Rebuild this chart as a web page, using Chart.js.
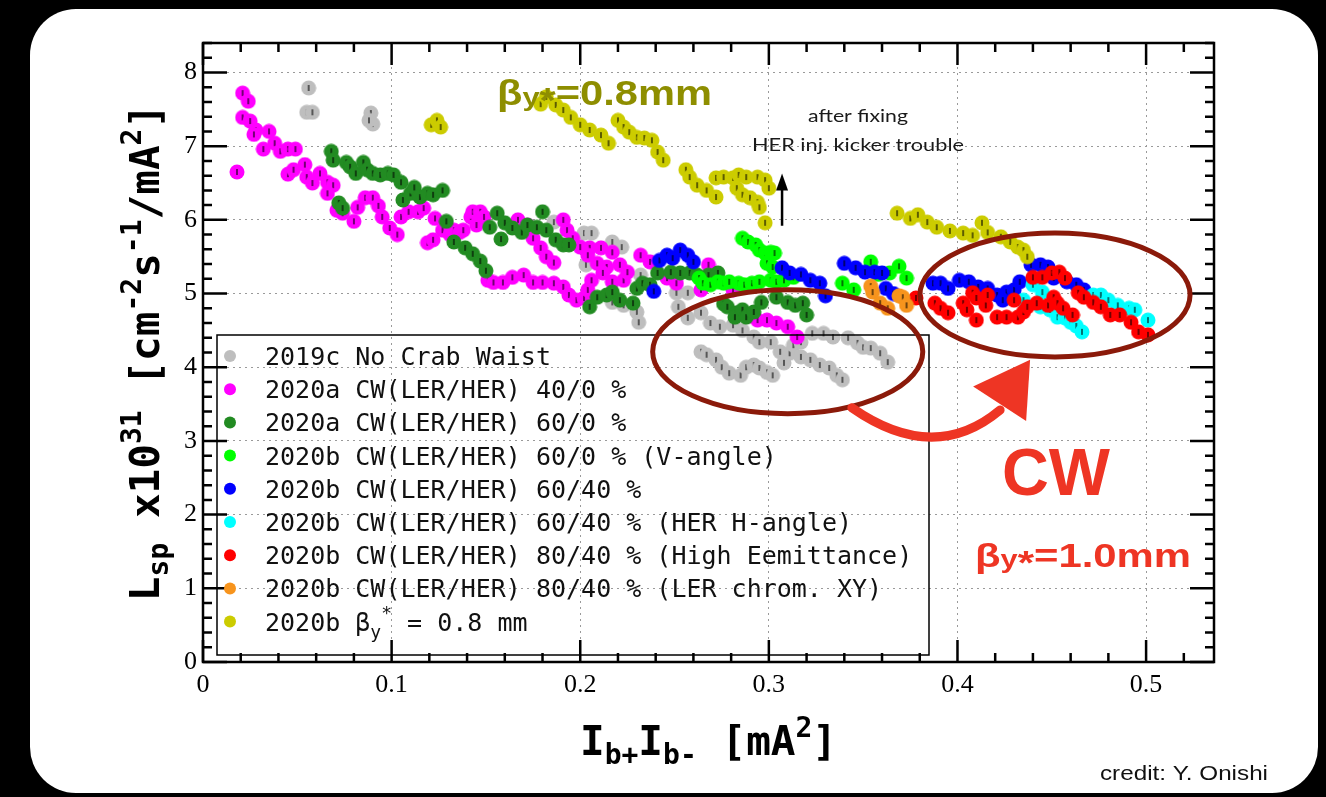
<!DOCTYPE html>
<html>
<head>
<meta charset="utf-8">
<script src="https://cdn.jsdelivr.net/npm/chart.js@4.4.1/dist/chart.umd.min.js"></script>
<style>
  html, body { margin: 0; padding: 0; background: #000; width: 1326px; height: 797px; overflow: hidden; }
  #panel { position: absolute; left: 30px; top: 9px; width: 1288px; height: 784px; background: #fff; border-radius: 46px; }
  #c { position: absolute; left: 0; top: 0; }
</style>
</head>
<body>
<div id="panel"></div>
<canvas id="c" width="1326" height="797"></canvas>
<script>
// Specific luminosity vs. bunch current product, per run period.
// Each point: [Ib+ * Ib- (mA^2), Lsp (x1e31 cm^-2 s^-1 / mA^2)]

const run2019c = [
  [0.056,7.79],[0.055,7.46],[0.058,7.46],[0.089,7.45],[0.090,7.30],[0.088,7.35],
  [0.186,5.97],[0.202,5.82],[0.206,5.82],[0.203,5.39],[0.217,5.70],[0.222,5.63],[0.232,5.25],
  [0.217,4.88],[0.223,4.84],[0.230,4.75],[0.231,4.61],
  [0.251,5.01],[0.257,5.01],[0.252,4.82],[0.257,4.67],
  [0.264,4.74],[0.269,4.60],[0.274,4.55],[0.281,4.57],[0.286,4.50],[0.292,4.41],[0.295,4.34],
  [0.301,4.34],[0.306,4.21],[0.311,4.19],[0.313,4.30],[0.317,4.34],
  [0.308,4.06],[0.317,4.14],[0.322,4.10],[0.327,4.03],[0.332,3.99],[0.336,3.89],[0.339,3.83],
  [0.323,4.46],[0.329,4.46],[0.334,4.41],[0.342,4.40],[0.347,4.33],[0.350,4.27],[0.354,4.26],
  [0.359,4.19],[0.363,4.07],
  [0.264,4.21],[0.267,4.17],[0.272,4.10],[0.275,4.00],[0.279,3.92],[0.285,3.89],[0.288,4.00],
  [0.292,4.03],[0.295,3.99],[0.299,3.93],[0.302,3.89]
];

const run2020a40 = [
  [0.018,6.65],[0.021,7.72],[0.024,7.61],[0.021,7.39],[0.025,7.34],[0.028,7.22],[0.027,7.16],
  [0.035,7.20],[0.032,6.96],[0.038,7.04],[0.041,6.93],[0.045,6.96],[0.049,6.96],
  [0.045,6.62],[0.048,6.68],[0.054,6.75],[0.055,6.58],[0.058,6.50],[0.062,6.63],[0.066,6.51],
  [0.069,6.47],[0.066,6.36],
  [0.071,6.13],[0.074,6.09],[0.080,5.98],[0.082,6.17],[0.086,6.30],[0.090,6.30],[0.093,6.19],
  [0.095,6.04],[0.099,5.89],[0.103,5.80],
  [0.105,6.04],[0.109,6.11],[0.114,6.11],[0.117,6.16],[0.119,5.69],[0.122,5.73],[0.123,6.02],
  [0.127,5.86],[0.131,5.80],[0.133,5.86],[0.136,5.83],[0.138,5.86],[0.142,6.04],[0.143,6.11],
  [0.145,5.93],[0.147,6.11],[0.149,6.04],
  [0.151,5.18],[0.154,5.15],[0.159,5.15],[0.164,5.22],[0.170,5.25],[0.175,5.15],[0.180,5.15],
  [0.186,5.14],[0.191,5.09],[0.194,4.98],[0.198,4.91],[0.202,4.94],[0.204,5.05],[0.206,5.18],
  [0.167,6.00],[0.172,5.93],[0.175,5.75],[0.179,5.62],[0.182,5.50],[0.186,5.42],[0.191,6.00],
  [0.193,5.86],[0.196,5.75],[0.200,5.63],[0.205,5.62],[0.211,5.62],[0.204,5.52],[0.209,5.41],
  [0.214,5.36],[0.217,5.56],[0.221,5.39],[0.212,5.28],[0.217,5.16],[0.223,5.18],[0.225,5.29],
  [0.232,5.52],[0.237,5.43],[0.246,5.21],[0.251,5.14],
  [0.268,5.39],[0.264,5.05],[0.281,5.05],[0.290,4.70],[0.294,4.64],[0.299,4.64],[0.304,4.60],
  [0.310,4.55],[0.315,4.41]
];

const run2020a60 = [
  [0.068,6.93],[0.069,6.81],[0.076,6.78],[0.078,6.72],[0.081,6.63],[0.085,6.78],[0.087,6.68],
  [0.090,6.63],[0.094,6.61],[0.098,6.63],[0.101,6.61],[0.105,6.51],[0.106,6.27],[0.110,6.36],
  [0.112,6.44],[0.115,6.31],[0.119,6.36],[0.122,6.34],[0.127,6.40],[0.072,6.23],[0.074,6.16],
  [0.129,5.98],[0.133,5.70],[0.139,5.62],[0.143,5.54],[0.147,5.44],[0.150,5.31],
  [0.156,6.09],[0.152,5.90],[0.158,5.74],[0.160,5.96],[0.164,5.89],[0.169,5.83],[0.172,5.93],
  [0.177,5.90],[0.180,6.11],[0.182,5.86],[0.187,5.73],[0.191,5.66],[0.194,5.66],
  [0.205,4.82],[0.209,4.95],[0.214,4.98],[0.217,5.02],[0.221,4.91],[0.228,4.87],[0.230,5.07],
  [0.233,5.14],[0.237,5.12],[0.241,5.28],[0.248,5.29],[0.253,5.28],[0.258,5.28],[0.262,5.25],
  [0.268,5.25],[0.273,5.28],
  [0.276,4.86],[0.278,4.82],[0.283,4.74],[0.282,4.68],[0.286,4.78],[0.288,4.68],[0.292,4.75],
  [0.296,4.88],[0.304,4.95],[0.310,4.88],[0.314,4.84],[0.318,4.87],[0.320,4.71]
];

const run2020bVangle = [
  [0.286,5.75],[0.289,5.70],[0.293,5.66],[0.295,5.59],[0.298,5.55],[0.301,5.56],[0.303,5.55],
  [0.299,5.41],[0.302,5.36],
  [0.263,5.21],[0.265,5.14],[0.269,5.12],[0.273,5.16],[0.276,5.14],[0.279,5.16],[0.284,5.14],
  [0.287,5.12],[0.291,5.14],[0.295,5.16],[0.301,5.18],[0.304,5.16],[0.308,5.18],[0.313,5.22],
  [0.339,5.14],[0.345,5.05],[0.354,5.43],[0.358,5.26],[0.364,5.28],[0.369,5.37],[0.373,5.21]
];

const run2020b6040 = [
  [0.239,5.03],[0.242,5.45],[0.246,5.52],[0.249,5.48],[0.253,5.59],[0.257,5.52],[0.260,5.43],
  [0.307,5.35],[0.311,5.28],[0.317,5.26],[0.322,5.18],[0.327,5.14],[0.330,4.97],
  [0.340,5.41],[0.346,5.35],[0.351,5.29],[0.356,5.29],[0.360,5.28],[0.362,5.07],[0.366,5.00],
  [0.387,5.14],[0.391,5.14],[0.395,5.07],[0.401,5.18],[0.406,5.16],[0.411,5.09],[0.416,5.07],
  [0.421,4.98],[0.426,5.02],[0.430,5.05],[0.433,5.16],[0.424,4.91],
  [0.439,5.39],[0.444,5.39],[0.448,5.36],[0.451,5.21],[0.458,5.16],[0.463,5.12],[0.467,5.05]
];

const run2020bHangle = [
  [0.435,4.91],[0.440,5.12],[0.445,5.02],[0.444,4.82],[0.449,4.78],[0.453,4.68],[0.457,4.67],
  [0.460,4.61],[0.463,4.56],[0.466,4.48],[0.472,4.98],[0.476,4.98],[0.480,4.91],[0.485,4.84],
  [0.491,4.80],[0.494,4.78],[0.501,4.64]
];

const run2020bHighEmit = [
  [0.378,4.94],[0.388,4.87],[0.391,4.80],[0.395,4.74],[0.403,4.87],[0.405,4.78],[0.408,5.01],
  [0.410,4.94],[0.410,4.64],[0.415,4.84],[0.416,4.98],[0.421,4.68],[0.426,4.68],[0.432,4.68],
  [0.430,4.91],[0.435,4.75],[0.437,4.82],
  [0.440,5.22],[0.445,5.22],[0.450,5.28],[0.454,5.29],[0.457,5.21],[0.442,4.87],[0.448,4.84],
  [0.451,4.95],[0.453,4.87],[0.456,4.80],[0.461,4.71],
  [0.464,5.01],[0.467,4.95],[0.472,4.88],[0.476,4.82],[0.481,4.71],[0.486,4.71],[0.492,4.61],
  [0.496,4.48],[0.501,4.44]
];

const run2020bChromXY = [
  [0.354,5.10],[0.355,5.02],[0.359,4.87],[0.363,4.80],[0.369,4.97],[0.371,4.95],[0.373,4.84]
];

const run2020bBeta08 = [
  [0.121,7.29],[0.124,7.35],[0.126,7.26],
  [0.179,7.57],[0.182,7.67],[0.187,7.56],[0.191,7.49],[0.195,7.39],[0.200,7.29],[0.205,7.22],
  [0.211,7.15],[0.215,7.04],[0.220,7.35],[0.223,7.26],[0.226,7.19],[0.230,7.12],[0.234,7.11],
  [0.238,7.08],[0.241,6.92],[0.244,6.81],
  [0.256,6.68],[0.258,6.58],[0.262,6.47],[0.267,6.40],[0.272,6.31],[0.272,6.57],[0.276,6.58],
  [0.281,6.57],[0.284,6.61],[0.288,6.58],[0.294,6.58],[0.298,6.54],[0.300,6.43],[0.283,6.43],
  [0.286,6.34],[0.290,6.30],[0.294,6.24],[0.295,6.17],[0.298,5.96],
  [0.368,6.09],[0.375,6.02],[0.379,6.07],[0.384,5.97],[0.389,5.90],[0.396,5.85],[0.403,5.82],
  [0.408,5.79],[0.413,5.96],[0.416,5.83],[0.423,5.77],[0.428,5.70],[0.432,5.63],[0.435,5.59],
  [0.437,5.50]
];

const seriesLabels = [
  '2019c No Crab Waist',
  '2020a CW(LER/HER) 40/0 %',
  '2020a CW(LER/HER) 60/0 %',
  '2020b CW(LER/HER) 60/0 % (V-angle)',
  '2020b CW(LER/HER) 60/40 %',
  '2020b CW(LER/HER) 60/40 % (HER H-angle)',
  '2020b CW(LER/HER) 80/40 % (High Eemittance)',
  '2020b CW(LER/HER) 80/40 % (LER chrom. XY)',
  '2020b β_{y}^{*} = 0.8 mm'
];

const seriesData = [run2019c, run2020a40, run2020a60, run2020bVangle, run2020b6040,
                    run2020bHangle, run2020bHighEmit, run2020bChromXY, run2020bBeta08];

const xTickLabels = ['0', '0.1', '0.2', '0.3', '0.4', '0.5'];
const yTickLabels = ['0', '1', '2', '3', '4', '5', '6', '7', '8'];

// styling
const seriesColors = ['#BEBEBE', '#FF00FF', '#228B22', '#00FF00', '#0000FF',
                      '#00FFFF', '#FF0000', '#F7941D', '#CCCC00'];
const MONO = '"DejaVu Sans Mono", monospace';
const SANS = '"Liberation Sans", Arial, sans-serif';

// filled marker with a small black error tick through the centre
function dotImage(color) {
  const c = document.createElement('canvas');
  c.width = 16; c.height = 16;
  const g = c.getContext('2d');
  g.fillStyle = color;
  g.beginPath(); g.arc(8, 8, 7.5, 0, Math.PI * 2); g.fill();
  g.strokeStyle = '#000'; g.lineWidth = 1.1;
  g.beginPath(); g.moveTo(8, 5); g.lineTo(8, 11); g.stroke();
  return c;
}

// split "a_{b}^{c}" markup into normal / sub / sup runs
function parseRich(str) {
  const out = [];
  const re = /([_^])\{([^}]*)\}/g;
  let last = 0, m;
  while ((m = re.exec(str)) !== null) {
    if (m.index > last) out.push({ t: str.slice(last, m.index), k: 'n' });
    out.push({ t: m[2], k: m[1] === '_' ? 'sub' : 'sup' });
    last = re.lastIndex;
  }
  if (last < str.length) out.push({ t: str.slice(last), k: 'n' });
  return out;
}

// draw runs of [text, size, dy] left to right; returns total advance
function runWidth(ctx, parts, weight, family) {
  let w = 0;
  for (const [t, s] of parts) { ctx.font = `${weight} ${s}px ${family}`; w += ctx.measureText(t).width; }
  return w;
}
function drawRuns(ctx, parts, x, y, weight, family) {
  let cx = x;
  for (const [t, s, dy] of parts) {
    ctx.font = `${weight} ${s}px ${family}`;
    ctx.fillText(t, cx, y + dy);
    cx += ctx.measureText(t).width;
  }
  return cx - x;
}
// same, horizontally scaled so the run spans a given width
function drawRunsFitted(ctx, parts, x, y, weight, family, width, color) {
  ctx.save();
  ctx.fillStyle = color;
  ctx.textBaseline = 'alphabetic';
  ctx.textAlign = 'left';
  const w = runWidth(ctx, parts, weight, family);
  ctx.translate(x, y);
  ctx.scale(width / w, 1);
  drawRuns(ctx, parts, 0, 0, weight, family);
  ctx.restore();
}

const frameAndLegend = {
  id: 'frameAndLegend',
  afterDatasetsDraw(chart) {
    const { ctx, chartArea: ca } = chart;
    const xs = chart.scales.x, ys = chart.scales.y;
    ctx.save();
    ctx.strokeStyle = '#000';
    ctx.lineWidth = 2.5;
    ctx.lineCap = 'butt';
    // inward ticks on all four sides: major every 0.1 / 1, minor every 0.02 / 0.2
    for (let k = 0; ; k++) {
      const v = k * 0.02;
      if (v > xs.max + 1e-9) break;
      const px = xs.getPixelForValue(v);
      const len = (k % 5 === 0) ? 22 : 9;
      ctx.beginPath();
      ctx.moveTo(px, ca.bottom); ctx.lineTo(px, ca.bottom - len);
      ctx.moveTo(px, ca.top); ctx.lineTo(px, ca.top + len);
      ctx.stroke();
    }
    for (let k = 0; ; k++) {
      const v = k * 0.2;
      if (v > ys.max + 1e-9) break;
      const py = ys.getPixelForValue(v);
      const len = (k % 5 === 0) ? 24 : 9;
      ctx.beginPath();
      ctx.moveTo(ca.left, py); ctx.lineTo(ca.left + len, py);
      ctx.moveTo(ca.right, py); ctx.lineTo(ca.right - len, py);
      ctx.stroke();
    }
    ctx.strokeRect(ca.left, ca.top, ca.right - ca.left, ca.bottom - ca.top);

    // legend box, lower left inside the frame
    const bx = ca.left + 14, bw = 712, bh = 320, by = ca.bottom - 7 - bh;
    ctx.lineWidth = 1.5;
    ctx.strokeRect(bx, by, bw, bh);
    const rowH = 33.2;
    ctx.textBaseline = 'alphabetic';
    ctx.textAlign = 'left';
    seriesLabels.forEach((lab, i) => {
      const cy = by + 21 + i * rowH;
      ctx.fillStyle = seriesColors[i];
      ctx.beginPath(); ctx.arc(bx + 13, cy, 6, 0, Math.PI * 2); ctx.fill();
      ctx.fillStyle = '#111';
      const runs = parseRich(lab).map(r =>
        r.k === 'n' ? [r.t, 25, 0] : r.k === 'sub' ? [r.t, 18, 7] : [r.t, 18, -12]);
      drawRuns(ctx, runs, bx + 48, cy + 9, 'normal', MONO);
    });
    ctx.restore();
  }
};

const overlays = {
  id: 'overlays',
  afterDraw(chart) {
    const { ctx, chartArea: ca } = chart;
    const xs = chart.scales.x, ys = chart.scales.y;
    const X = v => xs.getPixelForValue(v), Y = v => ys.getPixelForValue(v);
    ctx.save();

    // axis titles
    ctx.fillStyle = '#000';
    ctx.textBaseline = 'alphabetic';
    const yTitle = [['L', 41, 0], ['sp', 28, 9], [' x10', 41, 0], ['31', 28, -18], [' [cm', 41, 0],
                    ['-2', 28, -18], ['s', 41, 0], ['-1', 28, -18], ['/mA', 41, 0], ['2', 28, -18], [']', 41, 0]];
    const yw = runWidth(ctx, yTitle, 'bold', MONO);
    ctx.save();
    ctx.translate(159, (ca.top + ca.bottom) / 2);
    ctx.rotate(-Math.PI / 2);
    drawRuns(ctx, yTitle, -yw / 2, 0, 'bold', MONO);
    ctx.restore();

    const xTitle = [['I', 41, 0], ['b+', 28, 9], ['I', 41, 0], ['b-', 28, 9], [' [mA', 41, 0], ['2', 28, -18], [']', 41, 0]];
    const xw = runWidth(ctx, xTitle, 'bold', MONO);
    drawRuns(ctx, xTitle, (ca.left + ca.right) / 2 - xw / 2, 755, 'bold', MONO);

    // highlighted regions
    ctx.strokeStyle = '#8B1A0A';
    ctx.lineWidth = 5;
    const ellipse = (cx, cy, rx, ry) => {
      const px = X(cx), py = Y(cy);
      ctx.beginPath();
      ctx.ellipse(px, py, X(cx + rx) - px, py - Y(cy + ry), 0, 0, Math.PI * 2);
      ctx.stroke();
    };
    ellipse(0.310, 4.21, 0.0716, 0.84);
    ellipse(0.4517, 4.98, 0.0716, 0.84);

    // curved red arrow from the no-crab-waist group to the crab-waist group
    ctx.strokeStyle = '#EE3524';
    ctx.fillStyle = '#EE3524';
    ctx.lineWidth = 9;
    ctx.lineCap = 'round';
    ctx.beginPath();
    ctx.moveTo(X(0.344), Y(3.45));
    ctx.quadraticCurveTo(X(0.3876), Y(2.67), X(0.4226), Y(3.42));
    ctx.stroke();
    ctx.beginPath();
    ctx.moveTo(X(0.4385), Y(4.10));
    ctx.lineTo(X(0.4083), Y(3.74));
    ctx.lineTo(X(0.4364), Y(3.27));
    ctx.closePath();
    ctx.fill();

    // small black arrow
    ctx.strokeStyle = '#000';
    ctx.fillStyle = '#000';
    ctx.lineWidth = 2.5;
    ctx.lineCap = 'butt';
    ctx.beginPath();
    ctx.moveTo(X(0.307), Y(5.92)); ctx.lineTo(X(0.307), Y(6.45));
    ctx.stroke();
    ctx.beginPath();
    ctx.moveTo(X(0.307), Y(6.63));
    ctx.lineTo(X(0.307) - 6, Y(6.40));
    ctx.lineTo(X(0.307) + 6, Y(6.40));
    ctx.closePath();
    ctx.fill();

    // notes
    ctx.textAlign = 'left';
    const note = (txt, cx, y, w) => drawRunsFitted(ctx, [[txt, 18, 0]], cx - w / 2, y, 'normal', 'Lato, "Noto Sans", sans-serif', w, '#1a1a1a');
    note('after fixing', 858, 122, 100);
    note('HER inj. kicker trouble', 858, 151, 212);

    drawRunsFitted(ctx, [['β', 35, 0], ['y', 26, 1], ['*', 35, 7], ['=0.8mm', 35, 0]],
                   497, 105, 'bold', SANS, 215, '#8E8E00');
    drawRunsFitted(ctx, [['CW', 66, 0]], 1002, 495, 'bold', SANS, 108, '#EE3524');
    drawRunsFitted(ctx, [['β', 34, 0], ['y', 25, 1], ['*', 34, 7], ['=1.0mm', 34, 0]],
                   975, 567, 'bold', SANS, 216, '#EE3524');
    drawRunsFitted(ctx, [['credit: Y. Onishi', 21, 0]], 1100, 780, 'normal', SANS, 168, '#111');

    ctx.restore();
  }
};

const datasets = seriesData.map((d, i) => ({
  label: seriesLabels[i].replace(/[_^]\{([^}]*)\}/g, '$1'),
  data: d.map(p => ({ x: p[0], y: p[1] })),
  pointStyle: dotImage(seriesColors[i]),
  pointRadius: 7.5,
  backgroundColor: seriesColors[i],
  borderColor: seriesColors[i],
  showLine: false,
  order: -i
}));

new Chart(document.getElementById('c'), {
  type: 'scatter',
  data: { datasets },
  options: {
    responsive: false,
    animation: false,
    events: [],
    layout: { padding: { top: 43, right: 112, left: 0, bottom: 0 } },
    plugins: { legend: { display: false }, tooltip: { enabled: false } },
    scales: {
      x: {
        type: 'linear', min: 0, max: 0.536,
        afterFit: s => { s.height = 135; },
        ticks: {
          stepSize: 0.1, includeBounds: false, autoSkip: false, maxRotation: 0,
          callback: (v, i) => xTickLabels[i] ?? '',
          font: { family: '"Liberation Serif", "Times New Roman", serif', size: 26 },
          color: '#000', padding: 8
        },
        grid: { color: '#9a9a9a', lineWidth: 1, drawTicks: false },
        border: { display: false, dash: [2, 4] }
      },
      y: {
        type: 'linear', min: 0, max: 8.4,
        afterFit: s => { s.width = 203; },
        ticks: {
          stepSize: 1, includeBounds: false, autoSkip: false,
          callback: (v, i) => yTickLabels[i] ?? '',
          font: { family: '"Liberation Serif", "Times New Roman", serif', size: 26 },
          color: '#000', padding: 6
        },
        grid: { color: '#9a9a9a', lineWidth: 1, drawTicks: false },
        border: { display: false, dash: [2, 4] }
      }
    }
  },
  plugins: [frameAndLegend, overlays]
});
</script>
</body>
</html>
